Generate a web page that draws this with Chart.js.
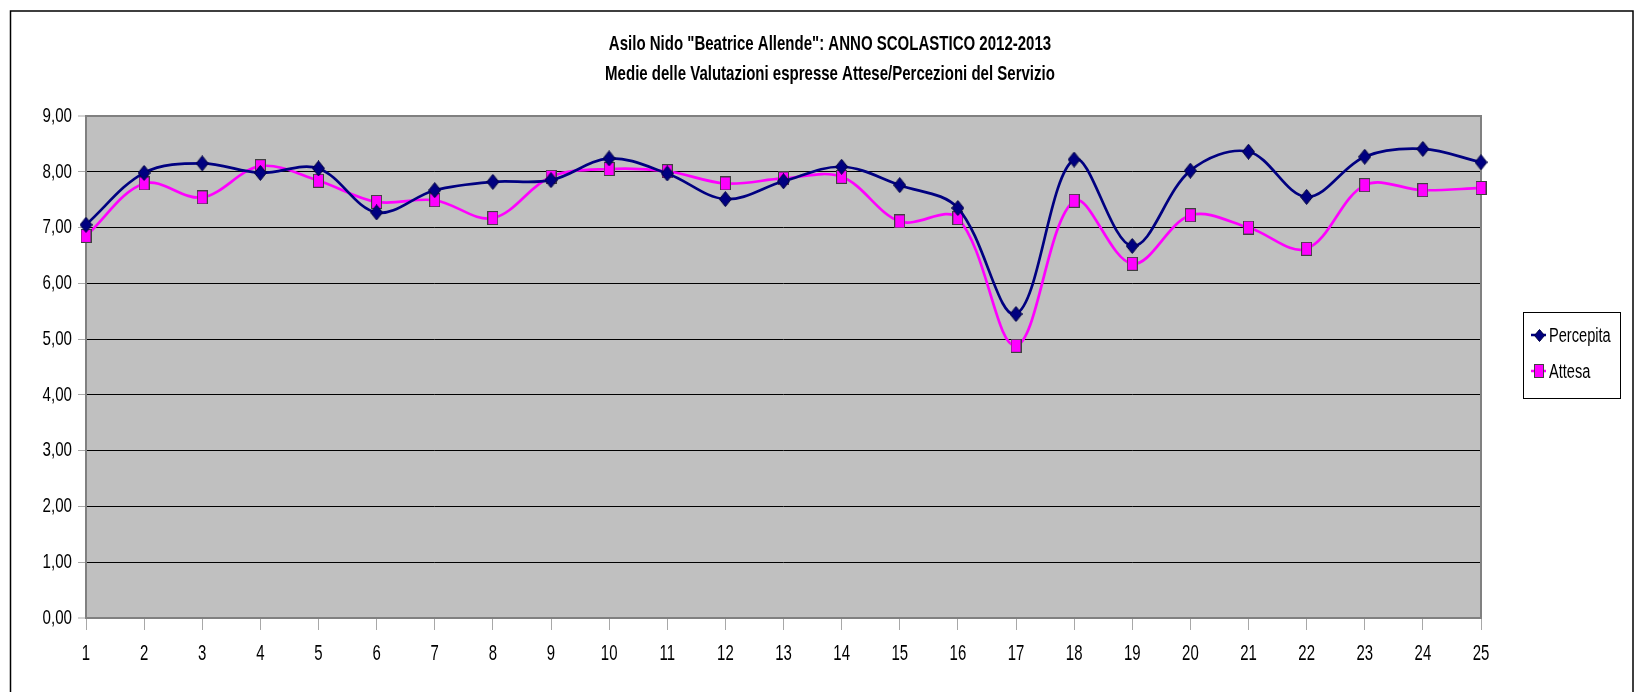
<!DOCTYPE html>
<html>
<head>
<meta charset="utf-8">
<script src="https://cdn.jsdelivr.net/npm/chart.js@4.4.1/dist/chart.umd.min.js"></script>
<style>
  html, body { margin: 0; padding: 0; background: #ffffff; }
  #wrap { width: 1638px; height: 692px; position: relative; }
</style>
</head>
<body>
<div id="wrap"><canvas id="chart" width="1638" height="692"></canvas></div>
<script>
// Questionnaire items (1..25)
const categories = ['1','2','3','4','5','6','7','8','9','10','11','12','13','14','15','16','17','18','19','20','21','22','23','24','25'];

// Average scores: perceived service
const percepita = [7.05, 7.98, 8.15, 7.98, 8.06, 7.27, 7.67, 7.82, 7.85, 8.24, 7.97, 7.51, 7.83, 8.09, 7.76, 7.35, 5.45, 8.22, 6.67, 8.02, 8.36, 7.55, 8.27, 8.41, 8.17];

// Average scores: expected service
const attesa = [6.85, 7.79, 7.54, 8.10, 7.84, 7.46, 7.49, 7.17, 7.91, 8.05, 8.01, 7.79, 7.88, 7.91, 7.11, 7.17, 4.88, 7.48, 6.35, 7.22, 7.00, 6.62, 7.76, 7.67, 7.71];

// Value axis ticks
const yTicks = [0, 1, 2, 3, 4, 5, 6, 7, 8, 9];

const seriesNames = ['Percepita', 'Attesa'];
const titleLines = ['Asilo Nido "Beatrice Allende": ANNO SCOLASTICO 2012-2013',
                    'Medie delle Valutazioni espresse Attese/Percezioni del Servizio'];

const FONT = "'Liberation Sans', Arial, sans-serif";
const CONDENSE = 0.72;   // horizontal squeeze for the narrow lettering
const NAVY = '#000080';
const MAGENTA = '#FF00FF';

// Marker sprites
function diamondSprite(w, h) {
  const c = document.createElement('canvas');
  c.width = w; c.height = h;
  const g = c.getContext('2d');
  g.beginPath();
  g.moveTo(w / 2, 0.5);
  g.lineTo(w - 0.5, h / 2);
  g.lineTo(w / 2, h - 0.5);
  g.lineTo(0.5, h / 2);
  g.closePath();
  g.fillStyle = NAVY;
  g.fill();
  g.strokeStyle = '#000040';
  g.lineWidth = 1;
  g.stroke();
  return c;
}
function squareSprite(w, h) {
  const c = document.createElement('canvas');
  c.width = w; c.height = h;
  const g = c.getContext('2d');
  g.fillStyle = MAGENTA;
  g.fillRect(0, 0, w, h);
  g.strokeStyle = '#404040';
  g.lineWidth = 1;
  g.strokeRect(0.5, 0.5, w - 1, h - 1);
  return c;
}
const diamondBig = diamondSprite(13, 16);
const squareBig = squareSprite(11, 14);
const diamondSmall = diamondSprite(11, 13);
const squareSmall = squareSprite(10, 14);

// Draw text squeezed horizontally around its anchor point
function narrowText(ctx, text, x, y, s) {
  ctx.save();
  ctx.translate(x, y);
  ctx.scale(s, 1);
  ctx.fillText(text, 0, 0);
  ctx.restore();
}

// Make a scale render its tick labels with the narrow lettering
function condenseScaleLabels(scale, s) {
  const orig = scale.drawLabels;
  scale.drawLabels = function (area) {
    const ctx = this.ctx;
    const fill = ctx.fillText;
    ctx.fillText = function (t, x, y) {
      this.save();
      this.translate(x, y);
      this.scale(s, 1);
      fill.call(this, t, 0, 0);
      this.restore();
    };
    try { orig.call(this, area); } finally { delete ctx.fillText; }
  };
}

// Outer frame, plot background, plot border, title and legend box
const decorations = {
  id: 'decorations',
  beforeDraw(chart) {
    Object.values(chart.scales).forEach(sc => {
      if (!sc._narrowLabels) { condenseScaleLabels(sc, sc.axis === 'x' ? 0.68 : CONDENSE); sc._narrowLabels = true; }
    });
    const { ctx, chartArea: a } = chart;
    ctx.save();
    ctx.fillStyle = '#ffffff';
    ctx.fillRect(0, 0, chart.width, chart.height);
    ctx.strokeStyle = '#000000';
    ctx.lineWidth = 1.5;
    ctx.beginPath();
    ctx.moveTo(10.5, 700);
    ctx.lineTo(10.5, 11);
    ctx.lineTo(1633, 11);
    ctx.lineTo(1633, 700);
    ctx.stroke();
    ctx.fillStyle = '#C0C0C0';
    ctx.fillRect(a.left, a.top, a.right - a.left, a.bottom - a.top);
    ctx.restore();
  },
  beforeDatasetsDraw(chart) {
    const { ctx, chartArea: a } = chart;
    ctx.save();
    ctx.strokeStyle = '#808080';
    ctx.lineWidth = 2;
    ctx.strokeRect(a.left, a.top, a.right - a.left, a.bottom - a.top);
    ctx.restore();
  },
  afterDraw(chart) {
    const { ctx } = chart;
    ctx.save();
    // Title
    ctx.fillStyle = '#000000';
    ctx.font = 'bold 21px ' + FONT;
    ctx.textAlign = 'center';
    ctx.textBaseline = 'middle';
    narrowText(ctx, titleLines[0], 830, 44, 0.715);
    narrowText(ctx, titleLines[1], 830, 74, 0.715);

    // Legend
    const bx = 1523.5, by = 312.5, bw = 97, bh = 86;
    ctx.fillStyle = '#ffffff';
    ctx.fillRect(bx, by, bw, bh);
    ctx.strokeStyle = '#000000';
    ctx.lineWidth = 1;
    ctx.strokeRect(bx, by, bw, bh);
    const rows = [
      { y: 335, color: NAVY, sprite: diamondSmall },
      { y: 371, color: MAGENTA, sprite: squareSmall }
    ];
    ctx.font = '20px ' + FONT;
    ctx.textAlign = 'left';
    rows.forEach((r, i) => {
      ctx.strokeStyle = r.color;
      ctx.lineWidth = 2.5;
      ctx.beginPath();
      ctx.moveTo(1531, r.y);
      ctx.lineTo(1546, r.y);
      ctx.stroke();
      ctx.drawImage(r.sprite, Math.round(1539 - r.sprite.width / 2), Math.round(r.y - r.sprite.height / 2));
      ctx.fillStyle = '#000000';
      narrowText(ctx, chart.data.datasets[i].label, 1549, r.y + 1, 0.73);
    });
    ctx.restore();
  }
};

new Chart(document.getElementById('chart'), {
  type: 'line',
  data: {
    labels: categories,
    datasets: [
      {
        label: seriesNames[0],
        data: percepita,
        borderColor: NAVY,
        backgroundColor: NAVY,
        borderWidth: 2.7,
        tension: 0.35,
        pointStyle: diamondBig,
        clip: false
      },
      {
        label: seriesNames[1],
        data: attesa,
        borderColor: MAGENTA,
        backgroundColor: MAGENTA,
        borderWidth: 2.7,
        tension: 0.35,
        pointStyle: squareBig,
        clip: false
      }
    ]
  },
  options: {
    responsive: false,
    animation: false,
    devicePixelRatio: 1,
    layout: { padding: { left: 0, right: 157, top: 116, bottom: 0 } },
    plugins: {
      legend: { display: false },
      title: { display: false },
      tooltip: { enabled: false }
    },
    scales: {
      x: {
        type: 'category',
        offset: false,
        grid: {
          drawOnChartArea: false,
          drawTicks: true,
          tickLength: 12,
          tickColor: '#A8A8A8',
          tickWidth: 1
        },
        border: { display: false },
        ticks: {
          color: '#000000',
          font: { family: FONT, size: 22 },
          padding: 11,
          maxRotation: 0,
          autoSkip: false
        },
        afterFit(scale) { scale.height = 74; }
      },
      y: {
        min: 0,
        max: 9,
        afterBuildTicks(scale) { scale.ticks = yTicks.map(v => ({ value: v })); },
        grid: {
          color: ctx => (ctx.tick && (ctx.tick.value === 0 || ctx.tick.value === 9)) ? '#808080' : '#000000',
          lineWidth: ctx => (ctx.tick && (ctx.tick.value === 0 || ctx.tick.value === 9)) ? 2 : 1,
          tickLength: 8,
          tickColor: '#A8A8A8',
          tickWidth: 1
        },
        border: { display: false },
        ticks: {
          color: '#000000',
          font: { family: FONT, size: 21 },
          padding: 6,
          callback: v => v.toFixed(2).replace('.', ',')
        },
        afterFit(scale) { scale.width = 86; }
      }
    }
  },
  plugins: [decorations]
});
</script>
</body>
</html>
